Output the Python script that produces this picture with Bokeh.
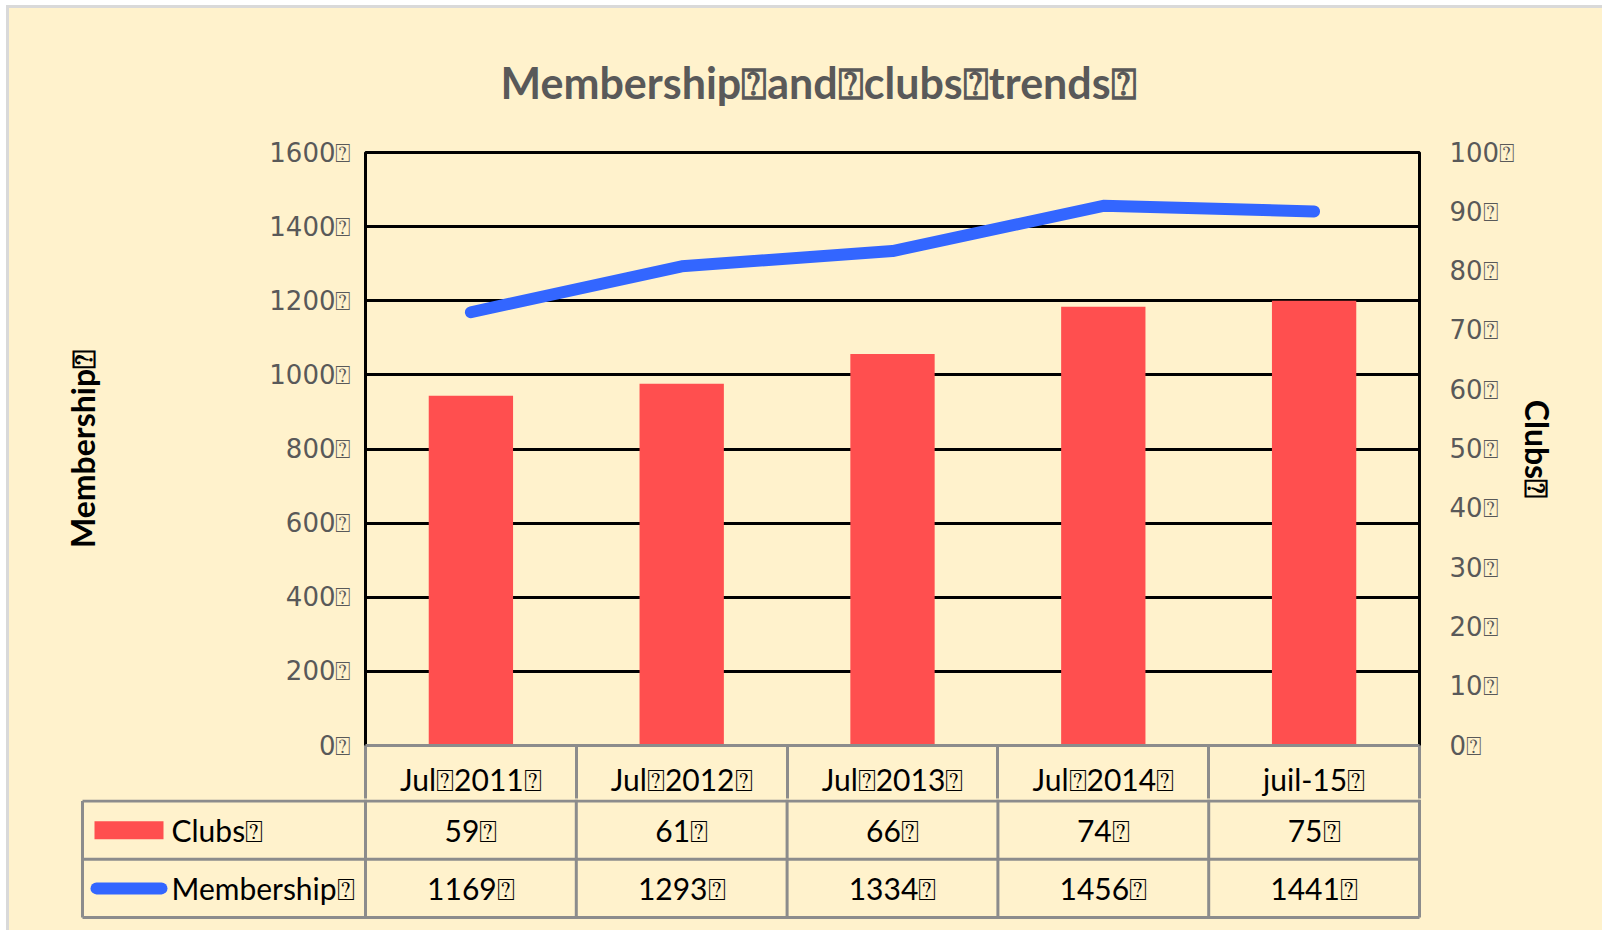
from bokeh.plotting import figure
from bokeh.models import Range1d, LinearAxis, FixedTicker, Title
from bokeh.layouts import column
from bokeh.embed import file_html
from bokeh.resources import INLINE
from bokeh.core.properties import value

# ---------------- data ----------------
BOX = "\u2370"  # the box glyph shown in place of spaces / line ends
categories = ["Jul 2011", "Jul 2012", "Jul 2013", "Jul 2014", "juil-15"]
clubs = [59, 61, 66, 74, 75]
membership = [1169, 1293, 1334, 1456, 1441]
membership_ticks = [0, 200, 400, 600, 800, 1000, 1200, 1400, 1600]
clubs_ticks = [0, 10, 20, 30, 40, 50, 60, 70, 80, 90, 100]
series_names = ["Clubs", "Membership"]
title_text = "Membership and clubs trends"


def boxed(s):
    return s.replace(" ", BOX) + BOX


# ---------------- style ----------------
CREAM = "#FFF2CC"
RED = "#FF4F4F"
BLUE = "#3366FF"
TABLE_GRAY = "#8C8C8C"
TICK_GRAY = "#595959"
TABLE_FONT = "Lato"
TICK_FONT = "DejaVu Sans"
TABLE_SIZE = "30px"

n = len(categories)
idx = list(range(n))

# page geometry (content offset by the outer border)
OX, OY = 9, 8
PW, PH = 1602, 930
FL, FR, FT, FB = 365, 1419, 152, 746       # plot frame on page
HDR_B = 799                                  # header row bottom on page
col_px = (FR - FL) / n

A = figure(width=PW - OX, height=HDR_B - OY,
           x_range=Range1d(-0.5, n - 0.5), y_range=Range1d(membership_ticks[0], membership_ticks[-1]),
           output_backend="svg", toolbar_location=None,
           min_border_left=FL - OX, min_border_right=PW - FR,
           min_border_top=FT - OY, min_border_bottom=HDR_B - FB,
           background_fill_color=CREAM, border_fill_color=CREAM,
           outline_line_color="black", outline_line_width=3)
A.frame_align = False
A.extra_y_ranges = {"clubs": Range1d(clubs_ticks[0], clubs_ticks[-1])}

A.title = Title(text=boxed(title_text), align="left", offset=500 - FL,
                vertical_align="bottom", standoff=90,
                text_font=TABLE_FONT, text_font_style="bold", text_font_size="43px",
                text_color=TICK_GRAY)

A.xgrid.visible = False
A.ygrid.grid_line_color = "black"
A.ygrid.grid_line_width = 3

# category axis (header row of the data table)
xa = A.xaxis[0]
xa.ticker = FixedTicker(ticks=idx, minor_ticks=[i - 0.5 for i in range(n + 1)])
xa.major_label_overrides = {i: boxed(c) for i, c in enumerate(categories)}
xa.major_tick_out = 0
xa.major_tick_in = 0
xa.minor_tick_in = 0
xa.minor_tick_out = HDR_B - FB
xa.minor_tick_line_color = TABLE_GRAY
xa.minor_tick_line_width = 3
xa.axis_line_color = TABLE_GRAY
xa.axis_line_width = 3
xa.major_label_standoff = -38
xa.major_label_text_font = TABLE_FONT
xa.major_label_text_font_size = TABLE_SIZE
xa.major_label_text_color = "black"

# left axis: membership
ya = A.yaxis[0]
ya.ticker = FixedTicker(ticks=membership_ticks)
ya.major_label_overrides = {t: f"{t}{BOX}" for t in membership_ticks}
ya.axis_line_color = None
ya.major_tick_out = 0
ya.major_tick_in = 0
ya.minor_tick_out = 0
ya.minor_tick_in = 0
ya.major_label_standoff = 14
ya.major_label_text_font = TICK_FONT
ya.major_label_text_font_size = "26px"
ya.major_label_text_color = TICK_GRAY
ya.axis_label = boxed(series_names[1])
ya.axis_label_text_font = TABLE_FONT
ya.axis_label_text_font_style = "bold"
ya.axis_label_text_font_size = "32px"
ya.axis_label_text_color = "black"
ya.axis_label_standoff = 164

# right axis: clubs
ra = LinearAxis(y_range_name="clubs", ticker=FixedTicker(ticks=clubs_ticks))
ra.major_label_overrides = {t: f"{t}{BOX}" for t in clubs_ticks}
ra.axis_line_color = None
ra.major_tick_out = 0
ra.major_tick_in = 0
ra.minor_tick_out = 0
ra.minor_tick_in = 0
ra.major_label_standoff = 30
ra.major_label_text_font = TICK_FONT
ra.major_label_text_font_size = "26px"
ra.major_label_text_color = TICK_GRAY
ra.axis_label = boxed(series_names[0])
ra.axis_label_text_font = TABLE_FONT
ra.axis_label_text_font_style = "bold"
ra.axis_label_text_font_size = "32px"
ra.axis_label_text_color = "black"
ra.axis_label_standoff = 0
A.add_layout(ra, "right")

# series
A.vbar(x=idx, top=clubs, width=0.4, y_range_name="clubs", fill_color=RED, line_color=None)
A.line(x=idx, y=membership, line_width=12, line_color=BLUE, line_cap="round", line_join="round")

# ---------------- data table (series rows) ----------------
BH = PH - HDR_B
B_FL, B_FR = 78, 1423
row_px = 58.25
top_line = HDR_B + 1.5
by1 = 2 + (top_line - HDR_B) / row_px
by0 = by1 - (PH - 9 - HDR_B) / row_px
bx0 = -0.5 - (FL - B_FL) / col_px
bx1 = (n - 0.5) + (B_FR - FR) / col_px
leg_left = -0.5 - (FL - 82) / col_px

B = figure(width=PW - OX, height=BH, x_range=Range1d(bx0, bx1), y_range=Range1d(by0, by1),
           output_backend="svg", toolbar_location=None,
           x_axis_location=None, y_axis_location=None,
           min_border_left=B_FL - OX, min_border_right=PW - B_FR,
           min_border_top=0, min_border_bottom=9,
           background_fill_color=CREAM, border_fill_color=CREAM, outline_line_color=None)
B.frame_align = False
B.grid.visible = False

rows = [0, 1, 2]
B.segment(x0=[leg_left] * len(rows), y0=rows, x1=[n - 0.5] * len(rows), y1=rows,
          line_color=TABLE_GRAY, line_width=3)
vx = [leg_left] + [i - 0.5 for i in range(n + 1)]
vy1 = [2] + [by1] * (n + 1)
B.segment(x0=vx, y0=[0] * len(vx), x1=vx, y1=vy1, line_color=TABLE_GRAY, line_width=3)

B.text(x=idx, y=[1.5] * n, text=[f"{c}{BOX}" for c in clubs],
       text_align="center", text_baseline="middle", text_font=value(TABLE_FONT),
       text_font_size=TABLE_SIZE, text_color="black")
B.text(x=idx, y=[0.5] * n, text=[f"{m}{BOX}" for m in membership],
       text_align="center", text_baseline="middle", text_font=value(TABLE_FONT),
       text_font_size=TABLE_SIZE, text_color="black")


def px2x(px):
    return -0.5 - (FL - px) / col_px


B.rect(x=[px2x(128.5)], y=[1.5], width=69, height=18, width_units="screen", height_units="screen",
       fill_color=RED, line_color=None)
B.line(x=[px2x(96), px2x(161)], y=[0.5, 0.5], line_width=12, line_color=BLUE, line_cap="round")
B.text(x=[px2x(171)] * 2, y=[1.5, 0.5], text=[boxed(s) for s in series_names],
       text_align="left", text_baseline="middle", text_font=value(TABLE_FONT),
       text_font_size=TABLE_SIZE, text_color="black")

layout = column(A, B, spacing=0,
                styles={"margin-left": "6px", "margin-top": "5px", "background-color": CREAM,
                        "border-left": "3px solid #D9D9D9", "border-top": "3px solid #D9D9D9"})

open("out.html", "w").write(file_html(layout, INLINE))
